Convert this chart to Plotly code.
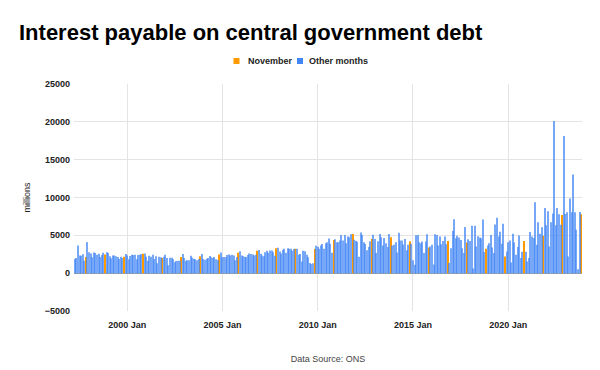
import plotly.graph_objects as go

# Monthly interest payable (£ millions); 1997 starts in April, 2023 ends in November
v1997 = [1870, 2000, 3650, 2350, 2300, 2500, 1650, 2130, 4100]
v1998 = [2780, 2600, 2100, 2740, 2650, 2440, 2570, 2130, 2400, 2700, 2480, 2780]
v1999 = [2650, 2220, 1960, 2350, 2350, 2220, 2130, 1870, 2170, 2000, 2170, 2520]
v2000 = [2350, 1830, 2260, 2440, 2400, 2440, 1830, 2400, 2440, 2520, 2570, 2600]
v2001 = [2170, 1650, 2300, 2170, 2440, 1870, 2220, 1300, 2170, 2100, 2000, 2170]
v2002 = [2440, 2000, 1040, 2040, 2040, 1830, 1440, 1610, 1650, 1650, 2130, 2520]
v2003 = [2000, 1650, 1700, 1700, 2300, 2040, 1910, 1830, 1700, 1870, 2220, 2520]
v2004 = [1870, 1780, 1910, 2000, 2260, 2090, 2000, 2130, 1830, 1740, 2480, 2740]
v2005 = [2130, 2130, 2090, 2390, 2480, 2350, 2440, 2350, 1700, 2130, 2700, 2910]
v2006 = [2350, 2220, 2170, 2130, 2390, 2610, 2520, 2480, 2350, 2440, 2960, 3050]
v2007 = [2570, 2350, 2220, 2780, 2960, 2700, 3000, 3000, 2780, 2300, 3300, 3350]
v2008 = [2870, 2610, 3050, 3220, 2700, 3300, 3220, 3220, 2960, 3180, 3220, 3220]
v2009 = [2440, 2520, 1550, 2960, 2900, 2430, 2120, 1330, 1200, 1300, 3180, 3610]
v2010 = [3480, 3220, 3650, 3870, 3220, 3960, 4090, 4570, 3900, 2700, 4390, 4480]
v2011 = [4090, 4090, 4310, 5040, 4310, 5040, 3970, 4830, 4740, 5130, 5170, 4400]
v2012 = [4270, 4140, 2160, 5390, 5040, 4090, 3840, 3020, 3450, 4220, 4530, 5090]
v2013 = [4530, 2670, 4220, 5170, 4740, 3660, 4650, 3970, 3450, 5170, 4740, 3660]
v2014 = [3750, 4090, 2720, 5340, 4310, 4310, 3790, 4530, 3020, 3750, 4220, 3880]
v2015 = [1720, 1100, 5000, 5050, 4090, 3960, 4170, 2650, 4170, 5130, 3390, 3520]
v2016 = [3740, 1130, 5130, 5050, 3650, 4830, 3830, 4260, 4830, 3830, 4260, 1350]
v2017 = [3300, 5570, 7130, 4610, 4960, 4700, 4390, 3300, 2650, 6090, 4050, 4480]
v2018 = [4260, 6260, 610, 6260, 3520, 4870, 4700, 4610, 7090, 2800, 3220, 3650]
v2019 = [3960, 5050, 3390, 2650, 6440, 7310, 4830, 5480, 3900, 6540, 2210, 2870]
v2020 = [4070, 4330, 1410, 5220, 4070, 2430, 3450, 4990, 1990, 2830, 4240, 2830]
v2021 = [1550, 1990, 5440, 4860, 4640, 9370, 3760, 6720, 5220, 6060, 4950, 8620]
v2022 = [6320, 8180, 3540, 6720, 7870, 20110, 6320, 8620, 7780, 6410, 7690, 18120]
v2023 = [7820, 8040, 2210, 9860, 8040, 13040, 8040, 5750, 530, 8090, 7780]

year_series = [
    (1997, v1997), (1998, v1998), (1999, v1999), (2000, v2000), (2001, v2001),
    (2002, v2002), (2003, v2003), (2004, v2004), (2005, v2005), (2006, v2006),
    (2007, v2007), (2008, v2008), (2009, v2009), (2010, v2010), (2011, v2011),
    (2012, v2012), (2013, v2013), (2014, v2014), (2015, v2015), (2016, v2016),
    (2017, v2017), (2018, v2018), (2019, v2019), (2020, v2020), (2021, v2021),
    (2022, v2022), (2023, v2023),
]
first_month = 4

tick_years = [2000, 2005, 2010, 2015, 2020]
tick_labels = ["2000 Jan", "2005 Jan", "2010 Jan", "2015 Jan", "2020 Jan"]
series_names = ["November", "Other months"]
series_colors = ["#ff9900", "#4285f4"]

nov_x, nov_y, oth_x, oth_y = [], [], [], []
for yr, vals in year_series:
    m0 = first_month if yr == 1997 else 1
    for i, v in enumerate(vals):
        m = m0 + i
        d = f"{yr}-{m:02d}-01"
        if m == 11:
            nov_x.append(d); nov_y.append(v)
        else:
            oth_x.append(d); oth_y.append(v)

W, H = 600, 370
L, R, T, B = 74, 18, 84, 59
PW, PH = W - L - R, H - T - B

def px_x(px):
    return (px - L) / PW

def px_y(py):
    return (H - B - py) / PH

BAR_W = 0.66 * 30.4 * 86400000

fig = go.Figure()
fig.add_trace(go.Bar(x=nov_x, y=nov_y, name=series_names[0], width=BAR_W,
                     marker=dict(color=series_colors[0], line=dict(width=0))))
fig.add_trace(go.Bar(x=oth_x, y=oth_y, name=series_names[1], width=BAR_W,
                     marker=dict(color=series_colors[1], opacity=0.72, line=dict(width=0))))

# custom compact legend (Google-Charts style)
legend_items = [(236.5, 246, series_names[0], series_colors[0]),
                (300, 306.5, series_names[1], series_colors[1])]
shapes, annotations = [], []
for sq_x, tx, name, col in legend_items:
    shapes.append(dict(type="rect", xref="paper", yref="paper",
                       x0=px_x(sq_x - 3), x1=px_x(sq_x + 3),
                       y0=px_y(61 + 3), y1=px_y(61 - 3),
                       fillcolor=col, line=dict(width=0)))
    annotations.append(dict(text=f"<b>{name}</b>", xref="paper", yref="paper",
                            x=px_x(tx), y=px_y(61), xanchor="left", yanchor="middle",
                            showarrow=False, font=dict(size=9, color="#222222")))

fig.update_layout(
    template="none",
    width=W, height=H,
    margin=dict(l=L, r=R, t=T, b=B, pad=0, autoexpand=False),
    paper_bgcolor="white", plot_bgcolor="white",
    barmode="overlay",
    font=dict(family="Liberation Sans, Arial, sans-serif", color="#222222"),
    title=dict(text="<b>Interest payable on central government debt</b>",
               x=19/600, xanchor="left", xref="container",
               y=1-32/370, yanchor="middle", yref="container",
               pad=dict(l=0, r=0, t=0, b=0),
               font=dict(size=22, color="#000000")),
    showlegend=False,
    shapes=shapes,
    annotations=annotations,
)
fig.update_xaxes(
    type="date", range=["1997-03-17", "2023-11-16"], automargin=False,
    tickvals=[f"{y}-01-01" for y in tick_years], ticktext=tick_labels,
    showgrid=True, gridcolor="#e4e4e4", gridwidth=1,
    tickfont=dict(size=9, color="#222222", weight="bold"),
    ticks="", showline=False, zeroline=False, ticklabelstandoff=7,
    title=dict(text="Data Source: ONS", font=dict(size=9, color="#444444"), standoff=26),
)
fig.update_yaxes(
    range=[-5000, 25000], dtick=5000, tick0=0, tickformat="d", automargin=False,
    showgrid=True, gridcolor="#e4e4e4", gridwidth=1,
    zeroline=True, zerolinecolor="#9aa0a6", zerolinewidth=1,
    tickfont=dict(size=9, color="#222222", weight="bold"),
    ticks="", showline=False, ticklabelstandoff=3,
    title=dict(text="millions", font=dict(size=9, color="#222222"), standoff=12),
)

fig.write_html("out.html",
               config={"displayModeBar": False},
               post_script="document.body.style.margin='0';document.body.style.padding='0';")
